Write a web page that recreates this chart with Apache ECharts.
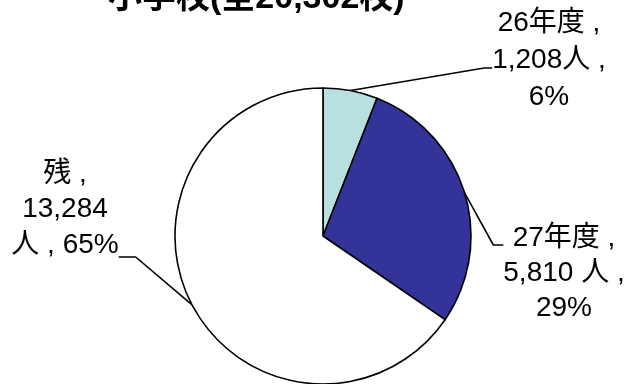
<!DOCTYPE html>
<html><head><meta charset="utf-8">
<script src="https://cdn.jsdelivr.net/npm/echarts@6/dist/echarts.min.js"></script>
<style>html,body{margin:0;padding:0;background:#fff}#c{width:625px;height:384px}</style>
</head><body><div id="c"></div>
<script>
const titleText = '小学校(全20,302校)';
const categories = ['26年度', '27年度', '残'];
const values = [1208, 5810, 13284];
const percents = ['6%', '29%', '65%'];
const labelTexts = ['26年度 ,\n1,208人 ,\n6%', '27年度 ,\n5,810 人 ,\n29%', '残 ,\n13,284\n人 , 65%'];
const colors = ['#B8E0E0', '#333399', '#FFFFFF'];

const font = '"Liberation Sans", Arial, "Noto Sans CJK JP", sans-serif';
// pre/post: invisible spacer lines that shift where the leader line meets the label block
const labelCfg = [
  {x: 549, y: 68, lh: 37, pre: 0, post: 16, len2: 8},
  {x: 564, y: 245, lh: 35, pre: 56, post: 0, len2: 10},
  {x: 65, y: 257, lh: 35.5, pre: 95 * 0, post: 95, len2: 17}
];
const rich = {};
[16, 56, 95].forEach(h => { rich['s' + h] = {lineHeight: h, fontSize: 1}; });

const chart = echarts.init(document.getElementById('c'));
chart.setOption({
  animation: false,
  title: {
    text: titleText, left: 103, top: -23,
    textStyle: {fontSize: 34, fontWeight: 'bold', color: '#000', fontFamily: font}
  },
  series: [{
    type: 'pie',
    center: [323, 236],
    radius: 148,
    startAngle: 90,
    clockwise: true,
    data: categories.map((c, i) => ({
      name: c, value: values[i],
      itemStyle: {color: colors[i]},
      label: {lineHeight: labelCfg[i].lh},
      labelLine: {length2: labelCfg[i].len2}
    })),
    itemStyle: {borderColor: '#000', borderWidth: 1.6},
    label: {
      show: true,
      overflow: 'none',
      formatter: p => {
        const c = labelCfg[p.dataIndex];
        let t = labelTexts[p.dataIndex];
        if (c.pre) t = '{s' + c.pre + '| }\n' + t;
        if (c.post) t = t + '\n{s' + c.post + '| }';
        return t;
      },
      rich: rich,
      fontSize: 28, color: '#000', fontFamily: font, align: 'center'
    },
    labelLine: {show: true, length: 20, length2: 10, lineStyle: {color: '#000', width: 1.6}},
    labelLayout: p => {
      const lp = labelCfg[p.dataIndex];
      return {x: lp.x, y: lp.y, align: 'center', verticalAlign: 'middle'};
    }
  }]
});
</script></body></html>
